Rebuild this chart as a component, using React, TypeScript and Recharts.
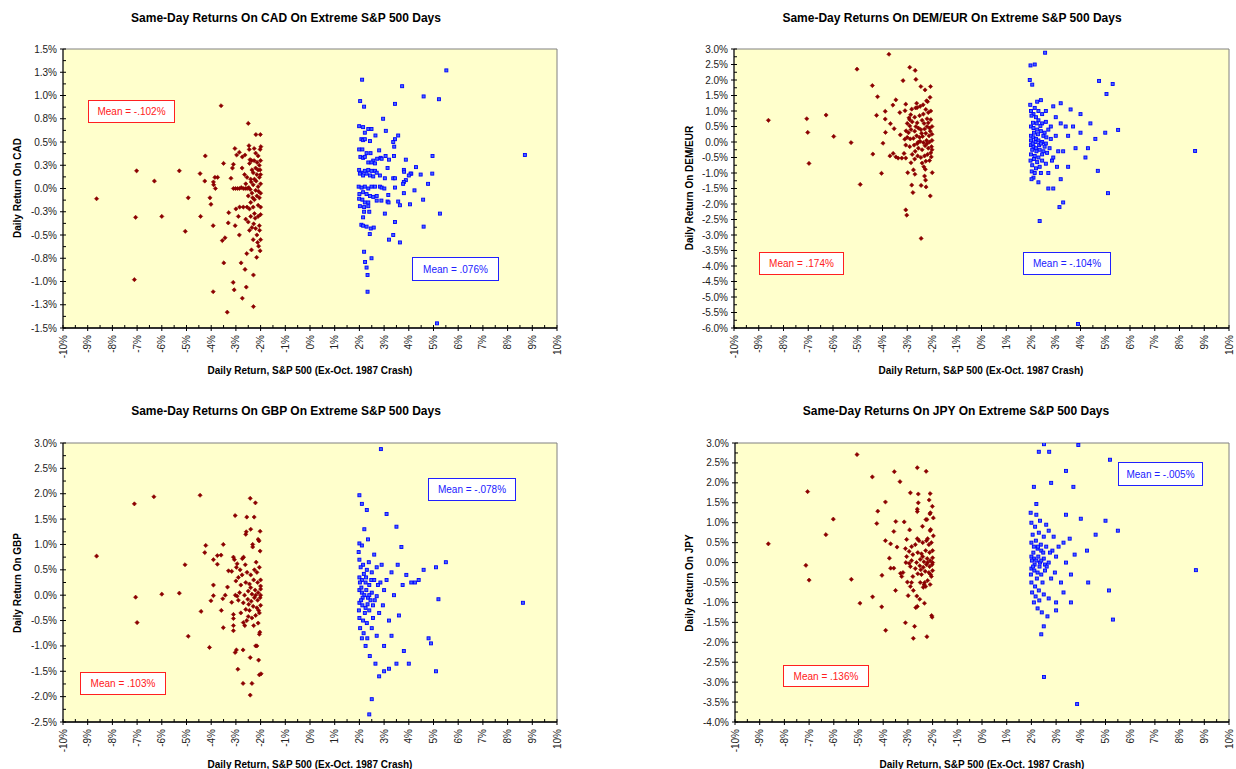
import React from 'react';
import { ScatterChart, Scatter, XAxis, YAxis, ReferenceArea } from 'recharts';

type P = [number, number];

const FONT = "'Liberation Sans', Arial, Helvetica, sans-serif";

const xTicks = [-10, -9.5, -9, -8.5, -8, -7.5, -7, -6.5, -6, -5.5, -5, -4.5, -4, -3.5, -3, -2.5, -2, -1.5, -1, -0.5, 0, 0.5, 1, 1.5, 2, 2.5, 3, 3.5, 4, 4.5, 5, 5.5, 6, 6.5, 7, 7.5, 8, 8.5, 9, 9.5, 10];

const cadTicks = [-1.5, -1.375, -1.25, -1.125, -1, -0.875, -0.75, -0.625, -0.5, -0.375, -0.25, -0.125, 0, 0.125, 0.25, 0.375, 0.5, 0.625, 0.75, 0.875, 1, 1.125, 1.25, 1.375, 1.5];
const demTicks = [-6, -5.75, -5.5, -5.25, -5, -4.75, -4.5, -4.25, -4, -3.75, -3.5, -3.25, -3, -2.75, -2.5, -2.25, -2, -1.75, -1.5, -1.25, -1, -0.75, -0.5, -0.25, 0, 0.25, 0.5, 0.75, 1, 1.25, 1.5, 1.75, 2, 2.25, 2.5, 2.75, 3];
const gbpTicks = [-2.5, -2.25, -2, -1.75, -1.5, -1.25, -1, -0.75, -0.5, -0.25, 0, 0.25, 0.5, 0.75, 1, 1.25, 1.5, 1.75, 2, 2.25, 2.5, 2.75, 3];
const jpyTicks = [-4, -3.75, -3.5, -3.25, -3, -2.75, -2.5, -2.25, -2, -1.75, -1.5, -1.25, -1, -0.75, -0.5, -0.25, 0, 0.25, 0.5, 0.75, 1, 1.25, 1.5, 1.75, 2, 2.25, 2.5, 2.75, 3];

const cadDown: P[] = [
  [-8.64, -0.11], [-7.06, -0.31], [-7.11, -0.98], [-7.02, 0.19], [-6.30, 0.08], [-6.00, -0.30], [-5.29, 0.19], [-5.05, -0.46], [-4.93, -0.10], [-4.43, -0.30],
  [-4.45, 0.16], [-4.24, 0.35], [-4.26, 0.08], [-4.05, -0.10], [-4.01, -0.17], [-3.92, -0.40], [-3.92, -1.11], [-3.91, 0.07], [-3.85, 0.12], [-3.74, 0.12],
  [-3.90, 0.04], [-3.83, 0.0], [-3.60, 0.89], [-3.55, -0.56], [-3.44, -0.53], [-3.49, -0.80], [-3.35, -1.33], [-3.50, 0.27], [-3.31, -0.37], [-3.29, -0.26],
  [-3.20, 0.11], [-3.11, -1.01], [-3.07, -1.09], [-3.10, 0.26], [-3.14, 0.22], [-3.04, 0.43], [-3.03, -0.40], [-2.97, 0.36], [-2.86, 0.39], [-2.86, -0.50],
  [-2.79, -0.80], [-2.74, -1.18], [-2.74, 0.34], [-2.63, 0.36], [-2.63, -0.87], [-2.58, -1.06], [-2.56, -0.70], [-2.50, 0.70], [-2.50, -0.36], [-2.47, 0.46],
  [-2.46, 0.42], [-2.43, 0.31], [-2.36, 0.30], [-2.29, -0.93], [-2.29, -1.27], [-2.26, 0.43], [-2.19, 0.58], [-2.01, 0.58], [-2.02, 0.42], [-1.99, 0.45],
  [-2.00, 0.30], [-2.16, -0.74], [-2.37, -0.66], [-2.02, -0.67], [-2.08, -0.62],
  [-3.10, 0.0], [-3.02, 0.0], [-2.94, 0.0], [-2.86, 0.0], [-2.78, 0.01], [-2.70, 0.0], [-2.62, 0.0], [-2.55, 0.0], [-2.48, 0.01], [-2.42, -0.01],
  [-2.05, 0.25], [-2.10, 0.20], [-2.15, 0.15], [-2.20, 0.22], [-2.30, 0.17], [-2.25, 0.10], [-2.05, 0.12], [-2.00, 0.05], [-2.10, 0.02], [-2.20, -0.02],
  [-2.30, 0.04], [-2.35, -0.05], [-2.00, -0.05], [-2.05, -0.10], [-2.15, -0.08], [-2.25, -0.12], [-2.40, -0.15], [-2.00, -0.20], [-2.10, -0.18], [-2.30, -0.20],
  [-2.45, -0.22], [-2.55, -0.20], [-2.70, -0.20], [-2.85, -0.20], [-3.00, -0.22], [-2.00, -0.28], [-2.10, -0.30], [-2.25, -0.27], [-2.40, -0.30], [-2.60, -0.33],
  [-2.05, -0.40], [-2.20, -0.43], [-2.35, -0.42], [-2.45, -0.45], [-2.15, -0.50], [-2.00, -0.55], [-2.30, -0.55], [-2.10, 0.35], [-2.20, 0.38], [-2.40, 0.10],
  [-2.55, 0.12], [-2.60, 0.05], [-2.35, 0.20], [-2.00, 0.15], [-2.45, 0.27], [-2.12, -0.58], [-2.28, -0.38], [-2.18, 0.08], [-2.08, -0.03], [-2.22, -0.32],
  [-2.38, 0.07], [-2.50, -0.08], [-2.65, 0.15], [-2.75, 0.22], [-2.90, -0.30], [-2.02, 0.20], [-2.14, 0.28], [-2.32, -0.10], [-2.04, -0.45], [-2.26, 0.30],
];

const cadUp: P[] = [
  [5.52, 1.27], [2.11, 1.17], [3.73, 1.10], [4.60, 0.99], [5.22, 0.96], [2.03, 0.94], [2.19, 0.88], [3.44, 0.91], [2.96, 0.75], [1.99, 0.67],
  [2.15, 0.66], [2.36, 0.64], [2.49, 0.64], [3.07, 0.62], [2.22, 0.60], [2.65, 0.57], [3.57, 0.57], [3.44, 0.53], [3.37, 0.50], [3.41, 0.45],
  [2.08, 0.53], [2.15, 0.52], [2.22, 0.53], [2.43, 0.51], [1.99, 0.42], [2.12, 0.42], [2.80, 0.41], [2.29, 0.38], [2.45, 0.38], [3.40, 0.35],
  [3.06, 0.35], [4.96, 0.35], [2.04, 0.34], [2.15, 0.33], [2.22, 0.34], [2.86, 0.33], [2.90, 0.32], [2.72, 0.32], [2.56, 0.30], [2.36, 0.28],
  [2.49, 0.28], [2.63, 0.27], [8.70, 0.36], [3.88, 0.31], [3.20, 0.31], [4.29, 0.23], [3.14, 0.22], [3.80, 0.20], [3.81, 0.18], [4.10, 0.16],
  [4.07, 0.16], [4.00, 0.14], [4.48, 0.15], [4.95, 0.16], [1.99, 0.20], [2.08, 0.17], [2.22, 0.19], [2.36, 0.20], [2.49, 0.19], [2.63, 0.19],
  [2.70, 0.17], [2.02, 0.16], [2.15, 0.14], [2.29, 0.16], [2.43, 0.14], [2.83, 0.14], [2.56, 0.13], [3.03, 0.11], [3.37, 0.11], [3.44, 0.11],
  [3.88, 0.09], [3.80, 0.07], [3.77, 0.05], [4.78, 0.05], [1.97, 0.02], [2.09, 0.01], [2.22, 0.02], [2.36, 0.00], [2.49, 0.02], [2.63, 0.02],
  [2.83, 0.02], [2.90, 0.01], [3.01, 0.00], [3.44, 0.01], [4.23, -0.02], [2.00, -0.06], [2.15, -0.04], [2.29, -0.06], [2.43, -0.08], [2.56, -0.09],
  [2.70, -0.08], [3.80, -0.05], [3.17, -0.07], [1.99, -0.11], [2.12, -0.12], [2.22, -0.15], [2.36, -0.15], [2.70, -0.13], [2.89, -0.13], [3.14, -0.14],
  [3.18, -0.15], [3.57, -0.14], [4.58, -0.12], [4.05, -0.17], [3.64, -0.18], [2.02, -0.19], [2.19, -0.20], [2.36, -0.19], [5.26, -0.27], [3.03, -0.27],
  [2.19, -0.25], [2.40, -0.25], [2.15, -0.31], [3.44, -0.36], [4.60, -0.41], [2.08, -0.39], [2.15, -0.40], [2.29, -0.41], [2.46, -0.43], [2.58, -0.42],
  [2.42, -0.49], [3.37, -0.50], [3.20, -0.55], [3.64, -0.58], [2.19, -0.68], [2.49, -0.75], [2.23, -0.79], [2.29, -0.85], [2.33, -0.93], [2.33, -1.11],
  [5.14, -1.45],
];

const demDown: P[] = [
  [-8.61, 0.70], [-7.06, 0.75], [-7.02, 0.31], [-6.97, -0.69], [-6.28, 0.87], [-5.97, 0.18], [-5.27, -0.02], [-5.03, 2.35], [-4.90, -1.37], [-4.41, 1.82],
  [-4.39, -0.39], [-4.20, 1.46], [-4.24, 0.86], [-4.04, -1.01], [-3.98, -0.04], [-3.89, 0.99], [-3.89, 0.74], [-3.88, 0.31], [-3.74, 2.83], [-3.70, -0.45],
  [-3.68, 0.59], [-3.58, 1.19], [-3.57, -0.37], [-3.46, -0.48], [-3.37, -0.52], [-3.53, 0.43], [-3.46, 1.36], [-3.30, 0.95], [-3.28, 0.23], [-3.17, 1.98],
  [-3.22, -0.52], [-3.13, -0.37], [-3.06, -0.52], [-3.10, 0.09], [-3.06, -0.10], [-3.06, 1.22], [-3.09, 1.01], [-3.05, 0.36], [-3.00, 0.60], [-2.93, 0.78],
  [-2.90, 0.72], [-2.98, -0.99], [-2.90, 2.41], [-2.82, 1.06], [-2.86, 0.88], [-2.85, -0.67], [-2.82, -1.39], [-2.77, -1.63], [-2.75, -0.90], [-2.69, -1.04],
  [-2.68, 2.31], [-2.65, 2.02], [-2.62, 1.25], [-2.60, 1.11], [-2.66, 1.10], [-2.45, 1.79], [-2.44, -1.40], [-2.44, -3.11], [-3.06, -2.19], [-3.02, -2.36],
  [-2.28, 1.68], [-2.26, -1.23], [-2.24, -1.45], [-2.22, 1.33], [-2.06, 1.79], [-2.08, 1.44], [-2.07, -1.74], [-1.99, -0.99], [-2.30, -1.10], [-2.33, -0.80],
  [-2.27, -0.88], [-2.05, 1.00], [-2.15, 0.95], [-2.25, 1.05], [-2.35, 0.90], [-2.50, 0.85], [-2.70, 0.80], [-2.80, 0.65], [-2.60, 0.62], [-2.40, 0.70],
  [-2.20, 0.75], [-2.05, 0.72], [-2.00, 0.50], [-2.10, 0.45], [-2.20, 0.50], [-2.30, 0.42], [-2.45, 0.40], [-2.55, 0.45], [-2.70, 0.35], [-2.85, 0.40],
  [-2.95, 0.30], [-2.00, 0.25], [-2.12, 0.20], [-2.25, 0.28], [-2.38, 0.18], [-2.50, 0.15], [-2.62, 0.20], [-2.75, 0.12], [-2.88, 0.10], [-2.00, 0.05],
  [-2.10, 0.00], [-2.22, 0.05], [-2.35, -0.02], [-2.48, 0.02], [-2.60, -0.05], [-2.72, -0.10], [-2.90, -0.15], [-2.02, -0.15], [-2.15, -0.20], [-2.28, -0.12],
  [-2.40, -0.25], [-2.55, -0.20], [-2.68, -0.30], [-2.80, -0.40], [-2.05, -0.35], [-2.18, -0.40], [-2.30, -0.45], [-2.45, -0.50], [-2.58, -0.45], [-2.70, -0.55],
  [-2.10, -0.60], [-2.25, -0.62], [-2.40, -0.68], [-2.00, -0.25], [-2.07, 0.35], [-2.32, 0.60], [-2.15, 0.62], [-2.48, 1.15], [-2.36, 1.20], [-2.18, 1.30],
  [-2.55, 0.00], [-2.65, 0.50], [-2.90, 0.52], [-3.00, 0.15], [-2.03, -0.48], [-2.20, -0.05], [-2.42, 0.28],
];

const demUp: P[] = [
  [2.57, 2.88], [1.98, 2.47], [2.15, 2.50], [1.95, 2.00], [2.05, 1.85], [4.75, 1.97], [5.30, 1.87], [5.05, 1.55], [2.40, 1.35], [2.25, 1.30],
  [3.20, 1.25], [2.90, 1.15], [3.60, 1.05], [4.00, 0.90], [4.40, 0.60], [5.52, 0.39], [5.00, 0.30], [4.60, 0.10], [8.63, -0.29], [3.80, -0.20],
  [4.20, -0.50], [4.70, -0.93], [5.11, -1.65], [3.50, -0.80], [3.20, -1.20], [2.90, -1.50], [2.70, -1.50], [3.30, -1.95], [3.15, -2.10], [2.35, -2.55],
  [3.90, -5.87], [2.00, 1.00], [2.10, 0.90], [2.20, 0.80], [2.30, 0.70], [2.45, 0.60], [2.60, 0.65], [2.00, 0.50], [2.10, 0.45], [2.25, 0.40],
  [2.40, 0.35], [2.55, 0.30], [2.70, 0.40], [2.00, 0.20], [2.10, 0.15], [2.20, 0.10], [2.30, 0.05], [2.45, 0.00], [2.60, -0.05], [2.80, 0.10],
  [2.00, -0.10], [2.10, -0.15], [2.20, -0.20], [2.35, -0.25], [2.50, -0.30], [2.65, -0.35], [2.00, -0.40], [2.15, -0.45], [2.30, -0.50], [2.45, -0.60],
  [2.60, -0.70], [2.05, -0.75], [2.20, -0.85], [2.40, -1.00], [2.10, -1.15], [2.30, -1.30], [3.00, 0.20], [3.10, -0.30], [3.40, 0.50], [2.85, -0.60],
  [3.00, 0.80], [1.97, 1.20], [2.02, 0.85], [2.08, 0.62], [2.12, 0.30], [2.18, 0.00], [2.05, -0.25], [2.12, -0.55], [2.22, -0.30], [2.28, 0.25],
  [2.33, -0.10], [2.38, 0.52], [2.45, -0.40], [2.50, 0.20], [2.55, -0.15], [1.98, -0.60], [2.03, -0.95], [2.15, -1.00], [2.25, -0.65], [2.35, -0.80],
  [2.15, 1.10], [2.30, 1.00], [2.45, 0.90], [2.60, 1.00], [2.75, -0.20], [2.90, -0.50], [3.20, 0.60], [3.50, 0.20], [3.70, 0.50], [4.00, 0.30],
  [4.30, -0.20], [2.00, 0.05], [2.07, -0.05], [2.23, 0.60], [2.40, -0.05], [2.02, -1.20], [2.62, 0.15], [2.70, -1.00], [3.05, -0.80], [3.30, -0.30],
  [2.80, 0.50],
];

const gbpDown: P[] = [
  [-8.64, 0.77], [-7.11, 1.80], [-7.06, -0.04], [-7.00, -0.54], [-6.32, 1.94], [-6.00, 0.02], [-5.29, 0.04], [-5.06, 0.60], [-4.93, -0.81], [-4.45, 1.97],
  [-4.41, -0.32], [-4.26, 0.84], [-4.22, 0.98], [-4.07, -1.03], [-4.01, -0.11], [-3.91, 0.20], [-3.91, -0.01], [-3.91, 0.70], [-3.75, 0.78], [-3.75, 0.61],
  [-3.60, 0.79], [-3.59, -0.30], [-3.53, -0.07], [-3.51, 1.00], [-3.51, -0.64], [-3.43, 0.00], [-3.34, 0.16], [-3.30, 0.48], [-3.17, 0.47], [-3.17, -0.14],
  [-3.10, -0.38], [-3.10, -0.46], [-3.10, -0.60], [-3.10, -0.70], [-3.03, 1.57], [-3.03, -1.13], [-2.98, -1.08], [-2.92, -1.46], [-3.10, 0.75], [-3.06, 0.70],
  [-3.02, 0.00], [-2.98, 0.55], [-2.95, 0.62], [-2.83, 0.50], [-2.69, 0.75], [-2.74, 0.72], [-2.71, -1.08], [-2.71, -1.74], [-2.70, -0.54], [-2.64, -0.60],
  [-2.56, -0.50], [-2.60, 1.20], [-2.58, 1.25], [-2.56, 1.54], [-2.42, -1.97], [-2.42, -1.23], [-2.40, 1.30], [-2.42, 1.91], [-2.35, -1.74], [-2.32, 1.00],
  [-2.32, 0.95], [-2.26, 1.54], [-2.21, 1.82], [-2.20, -1.00], [-2.15, -1.00], [-2.10, 1.10], [-2.06, 1.07], [-2.08, -1.28], [-2.05, -1.57], [-1.98, -1.55],
  [-2.03, -0.73], [-2.05, -0.77], [-2.02, 0.87], [-2.02, 1.26],
  [-2.05, 0.55], [-2.15, 0.45], [-2.25, 0.50], [-2.40, 0.40], [-2.55, 0.45], [-2.75, 0.40], [-2.90, 0.35], [-2.00, 0.30], [-2.12, 0.25], [-2.28, 0.30],
  [-2.45, 0.22], [-2.60, 0.25], [-2.80, 0.20], [-3.00, 0.28], [-2.00, 0.12], [-2.10, 0.05], [-2.22, 0.10], [-2.35, 0.02], [-2.50, 0.08], [-2.65, 0.00],
  [-2.85, 0.05], [-2.02, -0.05], [-2.12, -0.10], [-2.25, -0.05], [-2.38, -0.12], [-2.52, -0.08], [-2.70, -0.15], [-2.90, -0.10], [-2.00, -0.20], [-2.15, -0.25],
  [-2.30, -0.22], [-2.45, -0.30], [-2.60, -0.28], [-2.80, -0.35], [-2.05, -0.35], [-2.20, -0.40], [-2.35, -0.45], [-2.50, -0.42], [-2.10, -0.55], [-2.28, -0.60],
  [-2.00, 0.18], [-2.18, 0.65], [-2.40, 0.15], [-2.62, 0.60], [-2.00, 0.00], [-2.08, -0.30], [-2.20, 0.00], [-2.48, -0.18], [-2.95, -0.02],
];

const gbpUp: P[] = [
  [2.87, 2.88], [2.00, 1.97], [2.10, 1.80], [2.30, 1.68], [3.10, 1.60], [3.50, 1.35], [2.00, 1.02], [2.10, 0.98], [3.70, 0.95], [4.60, 0.50],
  [5.50, 0.65], [5.10, 0.55], [4.40, 0.30], [3.90, 0.40], [4.10, 0.25], [8.62, -0.15], [5.20, -0.08], [4.80, -0.85], [4.90, -0.95], [5.10, -1.50],
  [3.50, -1.35], [3.00, -1.50], [2.80, -1.60], [3.20, -1.45], [2.50, -2.05], [2.40, -2.35], [3.80, -1.10], [4.00, -1.35], [2.00, 0.70], [2.15, 0.60],
  [2.30, 0.50], [2.50, 0.45], [2.70, 0.55], [2.00, 0.35], [2.10, 0.30], [2.25, 0.25], [2.40, 0.20], [2.60, 0.30], [2.85, 0.25], [2.00, 0.10],
  [2.10, 0.05], [2.20, 0.00], [2.35, -0.05], [2.50, 0.05], [2.70, -0.02], [3.00, 0.10], [2.00, -0.15], [2.12, -0.20], [2.25, -0.25], [2.40, -0.30],
  [2.55, -0.20], [2.80, -0.35], [2.00, -0.45], [2.15, -0.50], [2.30, -0.55], [2.50, -0.65], [2.70, -0.80], [2.10, -0.85], [2.25, -1.00], [3.20, -0.50],
  [3.40, 0.00], [3.60, -0.40], [3.30, 0.45], [1.97, 0.85], [2.05, 0.55], [2.08, 0.15], [2.13, -0.05], [2.18, 0.42], [2.22, -0.35], [2.28, 0.10],
  [2.33, -0.18], [2.38, 0.65], [2.45, -0.10], [2.48, 0.30], [2.55, -0.45], [1.98, -0.30], [2.03, -0.65], [2.17, -0.75], [2.32, -0.85], [2.42, -1.20],
  [2.20, 1.30], [2.35, 1.10], [2.60, 0.80], [2.75, 0.20], [2.95, -0.20], [3.10, 0.30], [3.30, -0.80], [3.55, 0.60], [3.75, 0.20], [4.25, 0.25],
  [2.02, 0.25], [2.07, -0.10], [2.27, 0.35], [2.40, 0.00], [2.62, -0.10], [2.90, 0.60], [3.00, -1.00], [2.65, -1.35],
];

const jpyDown: P[] = [
  [-8.65, 0.47], [-7.13, -0.07], [-7.06, 1.78], [-7.00, -0.44], [-6.32, 0.70], [-6.02, 1.09], [-5.29, -0.42], [-5.06, 2.71], [-4.94, -1.02], [-4.44, 2.15],
  [-4.43, -0.86], [-4.26, 0.98], [-4.22, 1.29], [-4.05, -0.32], [-4.06, -1.11], [-3.91, 1.52], [-3.91, 0.55], [-3.90, -1.70], [-3.75, 0.11], [-3.70, 0.47],
  [-3.70, -0.14], [-3.57, -0.14], [-3.57, 0.78], [-3.55, 2.28], [-3.50, -0.70], [-3.49, 1.03], [-3.44, 0.39], [-3.32, 2.03], [-3.30, -0.27], [-3.25, -0.35],
  [-3.20, -0.25], [-3.15, 1.02], [-3.10, -1.51], [-3.10, 0.35], [-3.05, 0.15], [-3.08, 0.00], [-3.05, 0.58], [-3.02, -0.49], [-2.99, -0.83], [-2.93, 0.82],
  [-2.90, 1.75], [-2.90, -0.60], [-2.85, -0.50], [-2.78, -0.70], [-2.78, -1.90], [-2.73, -1.60], [-2.68, -1.13], [-2.62, -1.10], [-2.64, -0.84], [-2.62, 2.38],
  [-2.58, 1.72], [-2.62, 1.28], [-2.62, 1.34], [-2.58, 1.50], [-2.52, -0.92], [-2.41, 0.91], [-2.33, -1.02], [-2.26, 2.29], [-2.27, 1.08], [-2.23, 1.08],
  [-2.23, -1.86], [-2.14, 1.57], [-2.10, 1.73], [-2.09, 1.25], [-2.11, 1.22], [-2.01, 1.41], [-1.97, 1.12], [-2.08, 0.83], [-2.10, 0.80], [-2.04, -1.33],
  [-2.02, -1.37], [-1.97, 0.67],
  [-2.05, 0.50], [-2.15, 0.45], [-2.25, 0.55], [-2.40, 0.50], [-2.55, 0.55], [-2.70, 0.45], [-2.85, 0.40], [-2.00, 0.30], [-2.12, 0.25], [-2.28, 0.30],
  [-2.45, 0.22], [-2.60, 0.25], [-2.80, 0.20], [-2.95, 0.28], [-2.00, 0.12], [-2.10, 0.05], [-2.22, 0.10], [-2.35, 0.02], [-2.50, 0.08], [-2.65, 0.00],
  [-2.85, 0.05], [-2.02, -0.05], [-2.12, -0.10], [-2.25, -0.05], [-2.38, -0.12], [-2.52, -0.08], [-2.70, -0.15], [-2.90, -0.10], [-2.00, -0.20], [-2.15, -0.25],
  [-2.30, -0.22], [-2.45, -0.30], [-2.60, -0.28], [-2.80, -0.35], [-2.05, -0.35], [-2.20, -0.45], [-2.35, -0.55], [-2.50, -0.50], [-2.10, -0.55], [-2.28, -0.60],
  [-2.32, -0.50], [-2.20, 0.60], [-2.40, 0.15], [-2.62, 0.60], [-2.00, 0.00], [-2.08, -0.30], [-2.20, 0.00], [-2.48, -0.18], [-2.95, -0.02], [-2.38, -0.62],
];

const jpyUp: P[] = [
  [2.51, 2.97], [2.30, 2.78], [2.72, 2.78], [3.90, 2.95], [5.18, 2.58], [3.40, 2.30], [2.80, 2.00], [3.70, 1.90], [2.10, 1.90], [2.20, 1.47],
  [3.40, 1.20], [4.00, 1.10], [5.50, 0.80], [5.00, 1.05], [4.60, 0.70], [8.66, -0.19], [5.14, -0.70], [5.30, -1.43], [2.51, -2.87], [3.85, -3.55],
  [2.40, -1.80], [2.50, -1.60], [3.00, -1.20], [3.60, -1.00], [4.30, -0.50], [2.00, 1.00], [2.15, 0.90], [2.30, 0.75], [2.50, 0.65], [2.70, 0.80],
  [2.00, 0.50], [2.10, 0.40], [2.25, 0.35], [2.40, 0.30], [2.60, 0.40], [2.85, 0.30], [2.00, 0.15], [2.10, 0.10], [2.20, 0.05], [2.35, 0.00],
  [2.50, 0.10], [2.70, 0.00], [3.00, 0.15], [2.00, -0.15], [2.12, -0.20], [2.25, -0.25], [2.40, -0.30], [2.55, -0.20], [2.80, -0.40], [2.00, -0.50],
  [2.15, -0.60], [2.30, -0.70], [2.50, -0.80], [2.70, -0.90], [2.10, -1.00], [2.25, -1.15], [3.20, -0.50], [3.40, 0.00], [3.60, -0.30], [3.30, 0.50],
  [1.97, 1.25], [2.05, 0.70], [2.08, 0.25], [2.13, -0.05], [2.18, 0.55], [2.22, -0.40], [2.28, 0.15], [2.33, -0.10], [2.38, 0.45], [2.45, -0.50],
  [2.48, 0.25], [2.55, -0.05], [1.98, -0.30], [2.03, -0.75], [2.17, -0.85], [2.32, -0.95], [2.42, -1.25], [2.20, 1.20], [2.35, 1.05], [2.60, 0.95],
  [2.75, 0.25], [2.95, -0.25], [3.10, 0.40], [3.30, -0.75], [3.55, 0.60], [3.75, 0.20], [4.25, 0.30], [2.02, 0.05], [2.07, -0.10], [2.27, 0.40],
  [2.40, 0.05], [2.62, -0.10], [2.90, 0.65], [3.00, -1.00], [2.65, -1.35],
];

const toPts = (arr: P[]) => arr.map(([x, y]) => ({ x, y }));

const fmtY = (v: number) => {
  const r = Math.round(Math.abs(v) * 10 + 1e-9) / 10;
  return (v < -1e-9 ? '-' : '') + r.toFixed(1) + '%';
};
const fmtX = (v: number) => `${Math.round(v)}%`;

const XTick = (props: any) => {
  const { x, y, payload } = props;
  const v = payload.value as number;
  const major = Math.abs(v - Math.round(v)) < 1e-9;
  if (!major) return <line x1={x} x2={x} y1={y} y2={y - 3} stroke="#000" strokeWidth={1} />;
  const ty = y + 7;
  return (
    <g>
      <line x1={x} x2={x} y1={y - 3} y2={y + 3} stroke="#000" strokeWidth={1} />
      <text x={x} y={ty} transform={`rotate(-90 ${x} ${ty})`} textAnchor="end" dominantBaseline="central" fontSize={10} fill="#222" fontFamily={FONT}>
        {fmtX(v)}
      </text>
    </g>
  );
};

const makeYTick = (step: number) => (props: any) => {
  const { x, y, payload } = props;
  const v = payload.value as number;
  const q = v / step;
  const major = Math.abs(q - Math.round(q)) < 1e-6;
  if (!major) return <line x1={x} x2={x + 3} y1={y} y2={y} stroke="#000" strokeWidth={1} />;
  return (
    <g>
      <line x1={x - 3} x2={x + 3} y1={y} y2={y} stroke="#000" strokeWidth={1} />
      <text x={x - 6} y={y} textAnchor="end" dominantBaseline="central" fontSize={10} fill="#222" fontFamily={FONT}>
        {fmtY(v)}
      </text>
    </g>
  );
};

const RedMark = (props: any) => {
  const { cx, cy } = props;
  if (cx == null || cy == null) return null;
  const r = 2.1;
  return <polygon points={`${cx},${cy - r} ${cx + r},${cy} ${cx},${cy + r} ${cx - r},${cy}`} fill="#8B0000" stroke="#8B0000" strokeWidth={0.6} />;
};

const BlueMark = (props: any) => {
  const { cx, cy } = props;
  if (cx == null || cy == null) return null;
  return <rect x={cx - 1.5} y={cy - 1.5} width={3} height={3} fill="#4466FF" stroke="#0000FF" strokeWidth={0.9} />;
};

type PanelProps = {
  left: number; top: number; width: number; height: number;
  yAxisWidth: number; xAxisHeight: number; marginTop: number; marginRight: number;
  yDomain: [number, number]; yTicks: number[]; yStep: number;
  down: P[]; up: P[];
};

function Panel(p: PanelProps) {
  return (
    <div style={{ position: 'absolute', left: p.left, top: p.top }}>
      <ScatterChart width={p.width} height={p.height} margin={{ top: p.marginTop, right: p.marginRight, bottom: 0, left: 0 }}>
        <ReferenceArea x1={-10} x2={10} y1={p.yDomain[0]} y2={p.yDomain[1]} fill="#FFFFCC" fillOpacity={1} stroke="#808080" strokeWidth={1} />
        <XAxis type="number" dataKey="x" domain={[-10, 10]} ticks={xTicks} interval={0} height={p.xAxisHeight}
          tickSize={0} tickMargin={0} tickLine={false} axisLine={{ stroke: '#000', strokeWidth: 1.5 }} tick={XTick} allowDataOverflow />
        <YAxis type="number" dataKey="y" domain={p.yDomain} ticks={p.yTicks} interval={0} width={p.yAxisWidth}
          tickSize={0} tickMargin={0} tickLine={false} axisLine={{ stroke: '#000', strokeWidth: 1 }} tick={makeYTick(p.yStep)} allowDataOverflow />
        <Scatter data={toPts(p.down)} shape={RedMark} isAnimationActive={false} />
        <Scatter data={toPts(p.up)} shape={BlueMark} isAnimationActive={false} />
      </ScatterChart>
    </div>
  );
}

const titleStyle = (cx: number, cy: number): React.CSSProperties => ({
  position: 'absolute', left: cx, top: cy, transform: 'translate(-50%, -50%)', whiteSpace: 'nowrap',
  fontFamily: FONT, fontWeight: 'bold', fontSize: 12, color: '#000', lineHeight: '14px',
});
const xLabelStyle = (cx: number, cy: number): React.CSSProperties => ({
  position: 'absolute', left: cx, top: cy, transform: 'translate(-50%, -50%)', whiteSpace: 'nowrap',
  fontFamily: FONT, fontWeight: 'bold', fontSize: 10, color: '#000', lineHeight: '12px',
});
const yLabelStyle = (cx: number, cy: number): React.CSSProperties => ({
  position: 'absolute', left: cx, top: cy, transform: 'translate(-50%, -50%) rotate(-90deg)', whiteSpace: 'nowrap',
  fontFamily: FONT, fontWeight: 'bold', fontSize: 10, color: '#000', lineHeight: '12px',
});

function MeanBox({ left, top, w, h, text, color }: { left: number; top: number; w: number; h: number; text: string; color: string }) {
  return (
    <div style={{
      position: 'absolute', left, top, width: w, height: h, boxSizing: 'border-box', border: `1px solid ${color}`,
      background: '#FFFFFF', color, fontFamily: FONT, fontSize: 10, display: 'flex', alignItems: 'center', justifyContent: 'center',
      whiteSpace: 'nowrap',
    }}>{text}</div>
  );
}

const RED = '#FF2020';
const BLUE = '#2020FF';

export default function App() {
  return (
    <div style={{ position: 'absolute', left: 0, top: 0, width: 1236, height: 769, overflow: 'hidden', background: '#FFFFFF' }}>
      <Panel left={0} top={30} width={600} height={360} yAxisWidth={63} xAxisHeight={62} marginTop={19} marginRight={43}
        yDomain={[-1.5, 1.5]} yTicks={cadTicks} yStep={0.25} down={cadDown} up={cadUp} />
      <Panel left={672} top={30} width={564} height={360} yAxisWidth={62} xAxisHeight={62} marginTop={19} marginRight={7}
        yDomain={[-6, 3]} yTicks={demTicks} yStep={0.5} down={demDown} up={demUp} />
      <Panel left={0} top={424} width={600} height={345} yAxisWidth={63} xAxisHeight={47} marginTop={19} marginRight={43}
        yDomain={[-2.5, 3]} yTicks={gbpTicks} yStep={0.5} down={gbpDown} up={gbpUp} />
      <Panel left={673} top={424} width={563} height={345} yAxisWidth={62} xAxisHeight={47} marginTop={19} marginRight={7}
        yDomain={[-4, 3]} yTicks={jpyTicks} yStep={0.5} down={jpyDown} up={jpyUp} />

      <div style={titleStyle(286, 18)}>Same-Day Returns On CAD On Extreme S&amp;P 500 Days</div>
      <div style={titleStyle(952, 18)}>Same-Day Returns On DEM/EUR On Extreme S&amp;P 500 Days</div>
      <div style={titleStyle(286, 411)}>Same-Day Returns On GBP On Extreme S&amp;P 500 Days</div>
      <div style={titleStyle(956, 411)}>Same-Day Returns On JPY On Extreme S&amp;P 500 Days</div>

      <div style={yLabelStyle(18, 188)}>Daily Return On CAD</div>
      <div style={yLabelStyle(690, 188)}>Daily Return On DEM/EUR</div>
      <div style={yLabelStyle(18, 583)}>Daily Return On GBP</div>
      <div style={yLabelStyle(690, 583)}>Daily Return On JPY</div>

      <div style={xLabelStyle(310, 371)}>Daily Return, S&amp;P 500 (Ex-Oct. 1987 Crash)</div>
      <div style={xLabelStyle(981, 371)}>Daily Return, S&amp;P 500 (Ex-Oct. 1987 Crash)</div>
      <div style={xLabelStyle(310, 765)}>Daily Return, S&amp;P 500 (Ex-Oct. 1987 Crash)</div>
      <div style={xLabelStyle(982, 765)}>Daily Return, S&amp;P 500 (Ex-Oct. 1987 Crash)</div>

      <MeanBox left={88} top={100} w={87} h={23} text="Mean = -.102%" color={RED} />
      <MeanBox left={412} top={257} w={87} h={24} text="Mean = .076%" color={BLUE} />
      <MeanBox left={759} top={252} w={85} h={23} text="Mean = .174%" color={RED} />
      <MeanBox left={1023} top={252} w={88} h={23} text="Mean = -.104%" color={BLUE} />
      <MeanBox left={80} top={672} w={86} h={23} text="Mean = .103%" color={RED} />
      <MeanBox left={428} top={478} w={88} h={23} text="Mean = -.078%" color={BLUE} />
      <MeanBox left={783} top={665} w={86} h={22} text="Mean = .136%" color={RED} />
      <MeanBox left={1118} top={462} w={85} h={24} text="Mean = -.005%" color={BLUE} />
    </div>
  );
}
